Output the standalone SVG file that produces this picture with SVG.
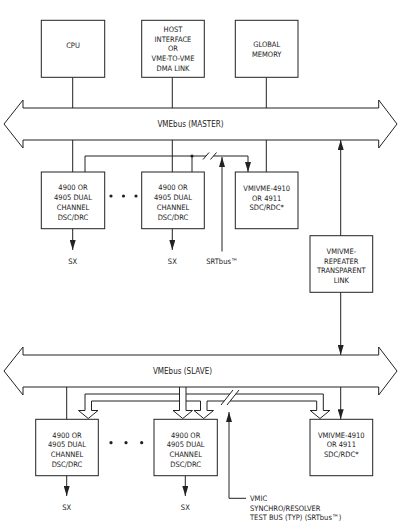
<svg xmlns="http://www.w3.org/2000/svg" width="407" height="524" viewBox="0 0 407 524">
<defs>
<style>
.box{fill:#fff;stroke:#222;stroke-width:1}
.bus{fill:#fff;stroke:#222;stroke-width:1}
.ln{fill:none;stroke:#222;stroke-width:1}
.t{font-family:"DejaVu Sans Condensed","Liberation Sans Narrow","Liberation Sans",sans-serif;font-size:7.5px;fill:#222;text-anchor:middle}
.tl{font-family:"DejaVu Sans Condensed","Liberation Sans Narrow","Liberation Sans",sans-serif;font-size:7.5px;fill:#222;text-anchor:start}
.bt{font-family:"DejaVu Sans Condensed","Liberation Sans Narrow","Liberation Sans",sans-serif;font-size:8px;fill:#222;text-anchor:middle}
.dot{fill:#222}
</style>
<marker id="ah" markerUnits="userSpaceOnUse" markerWidth="10" markerHeight="6" refX="10" refY="3" orient="auto" viewBox="0 0 10 6">
<path d="M0,0 L10,3 L0,6 z" fill="#222"/>
</marker>
</defs>

<g id="bus-master">
<polygon class="bus" points="23,108 378.7,108 378.7,100 397,124 378.7,148 378.7,140 23,140 23,148 4,124 23,100"/>
<text class="bt" x="190.5" y="127">VMEbus (MASTER)</text>
</g>
<g id="bus-slave">
<polygon class="bus" points="23,355 378.7,355 378.7,347 397,371 378.7,395 378.7,387 23,387 23,395 4,371 23,347"/>
<text class="bt" x="182.5" y="374">VMEbus (SLAVE)</text>
</g>

<g id="connectors">
<!-- top boxes to master bus -->
<line class="ln" x1="72.7" y1="77.3" x2="72.7" y2="108"/>
<line class="ln" x1="172.3" y1="77.3" x2="172.3" y2="108"/>
<line class="ln" x1="266.3" y1="77.3" x2="266.3" y2="108"/>
<!-- master bus to boxes -->
<line class="ln" x1="72.7" y1="140" x2="72.7" y2="172"/>
<line class="ln" x1="172.3" y1="140" x2="172.3" y2="172"/>
<line class="ln" x1="266.3" y1="140" x2="266.3" y2="172"/>
<!-- master SRTbus -->
<path class="ln" d="M85,172 V156 H206"/>
<path class="ln" d="M213.5,156 H248" />
<line class="ln" x1="248" y1="156" x2="248" y2="172" marker-end="url(#ah)"/>
<line class="ln" x1="203" y1="159.5" x2="209" y2="152.5"/>
<line class="ln" x1="210.5" y1="159.5" x2="216.5" y2="152.5"/>
<line class="ln" x1="192" y1="156" x2="192" y2="172"/>
<circle class="dot" cx="192" cy="156" r="1.6"/>
<line class="ln" x1="222" y1="251.5" x2="222" y2="157" marker-end="url(#ah)"/>
<!-- SX master -->
<line class="ln" x1="72.7" y1="228.7" x2="72.7" y2="250" marker-end="url(#ah)"/>
<line class="ln" x1="172.3" y1="228.7" x2="172.3" y2="250" marker-end="url(#ah)"/>
<!-- repeater -->
<line class="ln" x1="340.7" y1="235.7" x2="340.7" y2="140" marker-end="url(#ah)"/>
<line class="ln" x1="340.7" y1="292.3" x2="340.7" y2="355" marker-end="url(#ah)"/>
<!-- slave bus to boxes -->
<line class="ln" x1="66.7" y1="387" x2="66.7" y2="419.3"/>
<line class="ln" x1="340.7" y1="387" x2="340.7" y2="419.3" marker-end="url(#ah)"/>
<!-- fat vertical from slave bus -->
<path class="ln" d="M179.5,387 V410.5 H173 L182.75,418.5 L192.5,410.5 H186 V387"/>
<!-- fat SRTbus band -->
<path class="ln" d="M85,394 H179.5 M186,394 H229.8 M235.8,394 H323.3 V410.5 H329.8 L320,418.5 L310.2,410.5 H316.7 V401 H230.2 M224.2,401 H207 V410.5 H213.5 L203.75,418.5 L194,410.5 H200.5 V401 H186 M179.5,401 H91.5 V410.5 H98 L88.25,418.5 L78.5,410.5 H85 V394"/>
<line class="ln" x1="221" y1="405" x2="233" y2="390"/>
<line class="ln" x1="227" y1="405" x2="239" y2="390"/>
<!-- VMIC test bus pointer -->
<path class="ln" d="M246,498.3 H229 V412" marker-end="url(#ah)"/>
<!-- SX slave -->
<line class="ln" x1="66.7" y1="475.7" x2="66.7" y2="496" marker-end="url(#ah)"/>
<line class="ln" x1="185.3" y1="475.7" x2="185.3" y2="496" marker-end="url(#ah)"/>
</g>

<g id="cpu">
<rect class="box" x="41.3" y="20.3" width="63.4" height="57"/>
<text class="t" x="73" y="47.5">CPU</text>
</g>
<g id="host">
<rect class="box" x="141.7" y="20.3" width="62.6" height="57"/>
<text class="t" x="173" y="32">HOST</text>
<text class="t" x="173" y="41.7">INTERFACE</text>
<text class="t" x="173" y="51.4">OR</text>
<text class="t" x="173" y="61">VME-TO-VME</text>
<text class="t" x="173" y="70.7">DMA LINK</text>
</g>
<g id="global-memory">
<rect class="box" x="235.3" y="20.3" width="62.7" height="57"/>
<text class="t" x="266.7" y="47">GLOBAL</text>
<text class="t" x="266.7" y="57">MEMORY</text>
</g>

<g id="dsc-master-1">
<rect class="box" x="41.3" y="172" width="63.4" height="56.7"/>
<text class="t" x="73" y="190.4">4900 OR</text>
<text class="t" x="73" y="200.4">4905 DUAL</text>
<text class="t" x="73" y="210.4">CHANNEL</text>
<text class="t" x="73" y="220">DSC/DRC</text>
</g>
<g id="dots-master">
<circle class="dot" cx="111" cy="196" r="1.6"/>
<circle class="dot" cx="123.5" cy="196" r="1.6"/>
<circle class="dot" cx="136" cy="196" r="1.6"/>
</g>
<g id="dsc-master-2">
<rect class="box" x="141.7" y="172" width="62.6" height="56.7"/>
<text class="t" x="173" y="190.4">4900 OR</text>
<text class="t" x="173" y="200.4">4905 DUAL</text>
<text class="t" x="173" y="210.4">CHANNEL</text>
<text class="t" x="173" y="220">DSC/DRC</text>
</g>
<g id="vmivme-master">
<rect class="box" x="235.3" y="172" width="62.7" height="56.7"/>
<text class="t" x="266.7" y="191">VMIVME-4910</text>
<text class="t" x="266.7" y="200.7">OR 4911</text>
<text class="t" x="266.7" y="210.4">SDC/RDC*</text>
</g>
<g id="sx-master-labels">
<text class="t" x="72.7" y="263.5">SX</text>
<text class="t" x="172.3" y="263.5">SX</text>
<text class="t" x="222" y="263.5">SRTbus™</text>
</g>

<g id="repeater">
<rect class="box" x="310" y="235.7" width="62.7" height="56.6"/>
<text class="t" x="341.3" y="254">VMIVME-</text>
<text class="t" x="341.3" y="263.7">REPEATER</text>
<text class="t" x="341.3" y="273.4">TRANSPARENT</text>
<text class="t" x="341.3" y="283.1">LINK</text>
</g>

<g id="dsc-slave-1">
<rect class="box" x="35.7" y="419.3" width="62.6" height="56.4"/>
<text class="t" x="67" y="437.7">4900 OR</text>
<text class="t" x="67" y="447">4905 DUAL</text>
<text class="t" x="67" y="457">CHANNEL</text>
<text class="t" x="67" y="466.7">DSC/DRC</text>
</g>
<g id="dots-slave">
<circle class="dot" cx="111" cy="442.7" r="1.6"/>
<circle class="dot" cx="126" cy="442.7" r="1.6"/>
<circle class="dot" cx="141.7" cy="442.7" r="1.6"/>
</g>
<g id="dsc-slave-2">
<rect class="box" x="154" y="419.3" width="63.3" height="56.4"/>
<text class="t" x="185.7" y="437.7">4900 OR</text>
<text class="t" x="185.7" y="447">4905 DUAL</text>
<text class="t" x="185.7" y="457">CHANNEL</text>
<text class="t" x="185.7" y="466.7">DSC/DRC</text>
</g>
<g id="vmivme-slave">
<rect class="box" x="310" y="419.3" width="62.7" height="56.4"/>
<text class="t" x="341.3" y="437.7">VMIVME-4910</text>
<text class="t" x="341.3" y="447.4">OR 4911</text>
<text class="t" x="341.3" y="457">SDC/RDC*</text>
</g>
<g id="slave-labels">
<text class="t" x="66.7" y="509.5">SX</text>
<text class="t" x="185.3" y="509.5">SX</text>
<text class="tl" x="250" y="501">VMIC</text>
<text class="tl" x="250" y="510.7">SYNCHRO/RESOLVER</text>
<text class="tl" x="250" y="520.4">TEST BUS (TYP) (SRTbus™)</text>
</g>
</svg>
